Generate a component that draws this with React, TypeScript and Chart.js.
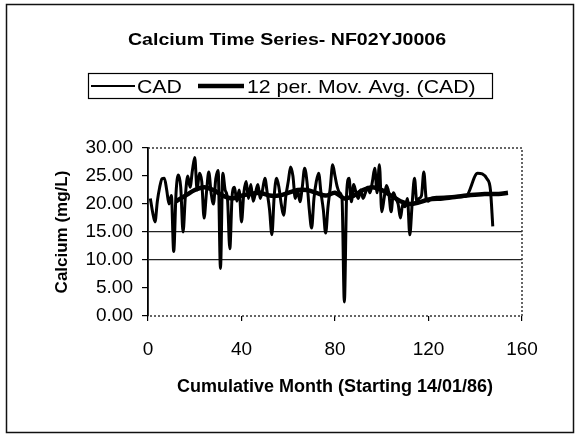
import React, { useEffect, useRef } from "react";
import { Chart, registerables } from "chart.js";

Chart.register(...registerables);

const CHART_TITLE = "Calcium Time Series- NF02YJ0006";
const LEGEND_LABELS = ["CAD", "12 per. Mov. Avg. (CAD)"];
const X_TITLE = "Cumulative Month (Starting 14/01/86)";
const Y_TITLE = "Calcium (mg/L)";

const CAD_MONTHS = [
  1, 2, 3, 4, 5, 6, 7, 8, 9, 10, 11, 12, 13, 14, 15, 16, 17, 18, 19, 20,
  21, 22, 23, 24, 25, 26, 27, 28, 29, 30, 31, 32, 33, 34, 35, 36, 37, 38, 39, 40,
  41, 42, 43, 44, 45, 46, 47, 48, 49, 50, 51, 52, 53, 54, 55, 56, 57, 58, 59, 60,
  61, 62, 63, 64, 65, 66, 67, 68, 69, 70, 71, 72, 73, 74, 75, 76, 77, 78, 79, 80,
  81, 82, 83, 84, 85, 86, 87, 88, 89, 90, 91, 92, 93, 94, 95, 96, 97, 98, 99, 100,
  101, 102, 103, 104, 105, 106, 107, 108, 109, 110, 111, 112, 113, 114, 115, 116, 117, 118, 119, 120,
  121, 124, 130, 136, 141, 145, 146.5, 147.5,
];
const CAD_VALUES = [
  21, 18.5, 16.8, 20.5, 23, 24.5, 24.6, 22.5, 20, 21.5, 11.5, 22, 25.2, 23, 15, 21.5, 25, 23, 26, 28.3,
  22.5, 25.5, 24, 17.5, 22, 25.7, 22, 20, 24.5, 26, 8.5, 25.5, 22.5, 21, 12, 21.5, 23, 20.5, 22.5, 16.8,
  22, 24, 21, 23.5, 20.5, 22, 23.5, 21, 22.5, 24.6, 22, 19, 14.5, 21.5, 24.6, 23, 20, 18, 21.5, 24,
  26.6, 25, 21, 22.5, 20.4, 23, 26.4, 24, 19, 15.7, 21, 24, 25.5, 22, 19, 14.8, 19.5, 23, 27, 25,
  23, 22, 21, 2.5, 22, 24.6, 20.4, 23.5, 22, 21, 22.5, 21, 22, 23, 22, 24, 26.4, 22, 27, 18.6,
  21, 23.3, 22, 18.6, 22, 21, 20, 17.5, 20, 19.5, 21, 14.5, 20, 24.6, 20.4, 21, 21.5, 25.7, 21, 20.5,
  21, 21.2, 21.3, 21.4, 25.5, 24.5, 22.5, 16,
];

const MA_MONTHS = [
  12, 16, 20, 24, 28, 32, 36, 40, 44, 48, 52, 56, 60, 64, 68, 72, 76, 80, 84, 88,
  92, 96, 100, 104, 108, 112, 116, 120, 126, 132, 138, 144, 150, 154,
];
const MA_VALUES = [
  20.5, 21.5, 22.5, 23, 22.5, 21.5, 21, 21.5, 21.8, 22, 21.5, 21.5, 22, 22.5, 22.5, 22, 21.5, 22, 21, 21.5,
  22.5, 23, 22.5, 21.5, 20.5, 20, 20.3, 20.8, 21, 21.3, 21.6, 21.8, 21.8, 22,
];

const X_MIN = 0;
const X_MAX = 160;
const X_STEP = 40;
const Y_MIN = 0;
const Y_MAX = 30;
const Y_STEP = 5;
const GRID_VALUES = [10, 15];

const FONT = "'Liberation Sans', Arial, Helvetica, sans-serif";

function stretchedText(ctx: CanvasRenderingContext2D, text: string, x: number, y: number, sx: number, align: "left" | "center") {
  ctx.save();
  ctx.translate(x, y);
  ctx.scale(sx, 1);
  ctx.textAlign = align;
  ctx.textBaseline = "alphabetic";
  ctx.fillText(text, 0, 0);
  ctx.restore();
}

const decorPlugin = {
  id: "decor",
  beforeDraw(chart: any) {
    const ctx = chart.ctx as CanvasRenderingContext2D;
    ctx.save();
    ctx.fillStyle = "#ffffff";
    ctx.fillRect(0, 0, chart.width, chart.height);
    ctx.strokeStyle = "#111";
    ctx.lineWidth = 1.5;
    ctx.strokeRect(6.5, 4.5, chart.width - 8, chart.height - 7);
    ctx.restore();
  },
  beforeDatasetsDraw(chart: any) {
    const ctx = chart.ctx as CanvasRenderingContext2D;
    const a = chart.chartArea;
    ctx.save();
    ctx.strokeStyle = "#333";
    ctx.lineWidth = 1.5;
    ctx.setLineDash([2, 2]);
    ctx.beginPath();
    ctx.moveTo(a.left, a.top);
    ctx.lineTo(a.right, a.top);
    ctx.lineTo(a.right, a.bottom);
    ctx.lineTo(a.left, a.bottom);
    ctx.stroke();
    ctx.restore();
  },
  afterDraw(chart: any) {
    const ctx = chart.ctx as CanvasRenderingContext2D;
    ctx.save();
    ctx.fillStyle = "#000";
    ctx.font = `bold 17px ${FONT}`;
    stretchedText(ctx, CHART_TITLE, 287, 45, 1.15, "center");
    ctx.strokeStyle = "#000";
    ctx.lineWidth = 1.2;
    ctx.strokeRect(88.5, 73.5, 404, 25);
    ctx.beginPath();
    ctx.lineWidth = 2;
    ctx.moveTo(91, 86);
    ctx.lineTo(135, 86);
    ctx.stroke();
    ctx.beginPath();
    ctx.lineWidth = 4.5;
    ctx.moveTo(198, 86);
    ctx.lineTo(244, 86);
    ctx.stroke();
    ctx.font = `19px ${FONT}`;
    stretchedText(ctx, LEGEND_LABELS[0], 137, 93, 1.12, "left");
    stretchedText(ctx, LEGEND_LABELS[1], 247, 93, 1.12, "left");
    ctx.restore();
  },
};

export default function App() {
  const canvasRef = useRef<HTMLCanvasElement | null>(null);

  useEffect(() => {
    const canvas = canvasRef.current;
    if (!canvas) return;
    const cadData = CAD_MONTHS.map((m, i) => ({ x: m, y: CAD_VALUES[i] }));
    const maData = MA_MONTHS.map((m, i) => ({ x: m, y: MA_VALUES[i] }));

    const chart = new Chart(canvas, {
      type: "scatter",
      data: {
        datasets: [
          {
            label: LEGEND_LABELS[1],
            data: maData,
            showLine: true,
            borderColor: "#000",
            borderWidth: 4.5,
            pointRadius: 0,
            tension: 0.3,
            order: 0,
          },
          {
            label: LEGEND_LABELS[0],
            data: cadData,
            showLine: true,
            borderColor: "#000",
            borderWidth: 3,
            pointRadius: 0,
            cubicInterpolationMode: "monotone",
            order: 1,
          },
        ],
      },
      plugins: [decorPlugin],
      options: {
        responsive: false,
        animation: false,
        layout: { padding: { left: 48, right: 53, top: 148, bottom: 37 } },
        plugins: {
          legend: { display: false },
          title: { display: false },
          tooltip: { enabled: false },
        },
        scales: {
          x: {
            type: "linear",
            min: X_MIN,
            max: X_MAX,
            afterFit: (s: any) => {
              s.height = 82;
            },
            ticks: {
              stepSize: X_STEP,
              color: "#000",
              padding: 17,
              font: { family: FONT, size: 19 },
              maxRotation: 0,
            },
            grid: { drawOnChartArea: false, color: "#000", tickLength: 5, lineWidth: 1.2 },
            border: { display: false },
            title: {
              display: true,
              text: X_TITLE,
              color: "#000",
              padding: { top: 0, bottom: 0 },
              font: { family: FONT, size: 18, weight: "bold" },
            },
          },
          y: {
            min: Y_MIN,
            max: Y_MAX,
            afterFit: (s: any) => {
              s.width = 100;
            },
            ticks: {
              stepSize: Y_STEP,
              color: "#000",
              padding: 9,
              font: { family: FONT, size: 19 },
              callback: (v: any) => Number(v).toFixed(2),
            },
            grid: {
              color: (c: any) => (GRID_VALUES.includes(c.tick?.value) ? "#222" : "rgba(0,0,0,0)"),
              tickColor: "#000",
              tickLength: 6,
              lineWidth: 1.2,
            },
            border: { display: true, color: "#000", width: 1.8 },
            title: {
              display: true,
              text: Y_TITLE,
              color: "#000",
              padding: { top: 4, bottom: 0 },
              font: { family: FONT, size: 17, weight: "bold" },
            },
          },
        },
      },
    });
    return () => chart.destroy();
  }, []);

  return (
    <div style={{ position: "fixed", left: 0, top: 0, width: 575, height: 435, background: "#fff" }}>
      <canvas ref={canvasRef} width={575} height={435} style={{ display: "block" }} />
    </div>
  );
}
